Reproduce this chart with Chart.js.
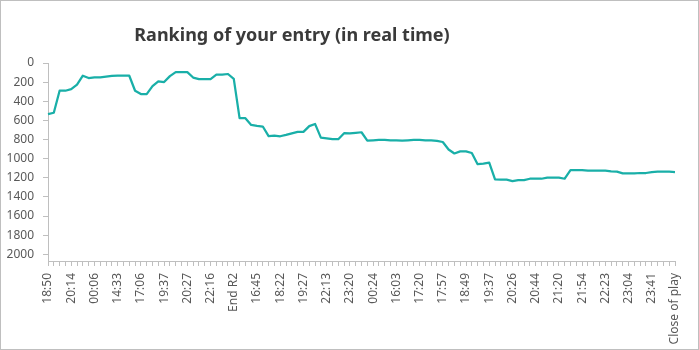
<!DOCTYPE html>
<html>
<head>
<meta charset="utf-8">
<script src="https://cdn.jsdelivr.net/npm/chart.js@4"></script>
<style>
  body { margin: 0; background: #fff; }
  #frame { width: 699px; height: 350px; box-sizing: border-box; border: 1px solid #bfbfbf; position: relative; }
</style>
</head>
<body>
<div id="frame"><canvas id="chart"></canvas></div>
<script>
const chartTitle = 'Ranking of your entry (in real time)'

// one label on every fourth update
const tickLabels = ['18:50', '20:14', '00:06', '14:33', '17:06', '19:37', '20:27', '22:16', 'End R2',
  '16:45', '18:22', '19:27', '22:13', '23:20', '00:24', '16:03', '17:20', '17:57', '18:49',
  '19:37', '20:26', '20:44', '21:20', '21:54', '22:23', '23:04', '23:41', 'Close of play']
const labelEvery = 4

const rankings = [
  534, 520, 290, 290, 274, 227, 133, 157, 150, 150,
  143, 135, 133, 133, 133, 290, 325, 325, 242, 192,
  199, 137, 95, 95, 95, 152, 168, 168, 168, 122,
  122, 115, 166, 577, 577, 648, 657, 664, 765, 760,
  766, 752, 735, 720, 720, 660, 637, 780, 787, 797,
  797, 734, 736, 730, 724, 812, 808, 804, 804, 808,
  810, 811, 808, 804, 804, 808, 810, 815, 826, 904,
  946, 924, 924, 941, 1058, 1053, 1042, 1217, 1220, 1220,
  1234, 1224, 1224, 1210, 1210, 1210, 1198, 1198, 1198, 1210,
  1119, 1119, 1119, 1126, 1126, 1126, 1126, 1133, 1136, 1154,
  1154, 1154, 1150, 1150, 1140, 1136, 1136, 1136, 1140
]

const categories = rankings.map((_, i) => i % labelEvery === 0 ? tickLabels[i / labelEvery] : '')

const rankStep = 200
const axisGrey = '#bfbfbf'
const textGrey = '#595959'

Chart.defaults.font.family = '"Noto Sans", sans-serif'
Chart.defaults.font.size = 12
Chart.defaults.color = textGrey

const headline = {
  id: 'headline',
  afterDraw(chart) {
    const c = chart.ctx
    c.save()
    c.font = 'bold 18px "Noto Sans"'
    c.fillStyle = '#3a3a3a'
    c.textAlign = 'center'
    c.textBaseline = 'middle'
    c.fillText(chartTitle, 291, 35)
    c.restore()
  }
}

const ctx = document.getElementById('chart')
new Chart(ctx, {
  type: 'line',
  data: {
    labels: categories,
    datasets: [{
      label: 'Ranking',
      data: rankings,
      borderColor: '#19AFA8',
      borderWidth: 2.25,
      pointRadius: 0,
      tension: 0,
      borderJoinStyle: 'round'
    }]
  },
  options: {
    responsive: true,
    maintainAspectRatio: false,
    animation: false,
    layout: { padding: { top: 62, right: 23, bottom: 0, left: 0 } },
    plugins: {
      legend: { display: false },
      tooltip: { enabled: false }
    },
    scales: {
      x: {
        offset: false,
        border: { display: true, color: axisGrey },
        grid: { drawOnChartArea: false, color: axisGrey, tickLength: 5 },
        ticks: { autoSkip: false, minRotation: 90, maxRotation: 90, padding: 7 },
        afterFit(scale) { scale.height = 88 }
      },
      y: {
        reverse: true,
        min: 0,
        max: 2070,
        bounds: 'data',
        border: { display: true, color: axisGrey },
        grid: { drawOnChartArea: false, color: axisGrey, tickLength: 5 },
        ticks: { stepSize: rankStep, padding: 9, callback: v => String(v) },
        // keep only the round steps, not the axis end
        afterBuildTicks(scale) { scale.ticks = scale.ticks.filter(t => t.value % rankStep === 0) },
        afterFit(scale) { scale.width = 47 }
      }
    }
  },
  plugins: [headline]
})
</script>
</body>
</html>
